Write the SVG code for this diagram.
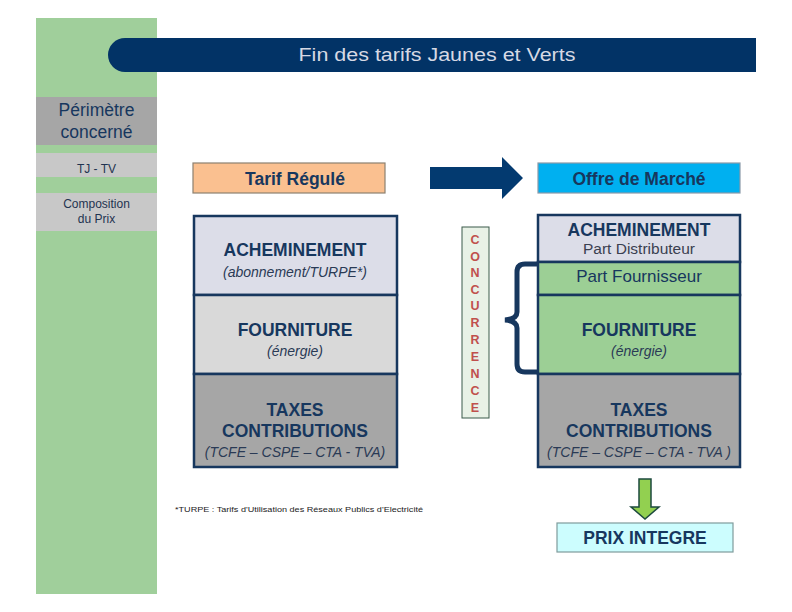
<svg xmlns="http://www.w3.org/2000/svg" width="792" height="612" viewBox="0 0 792 612">
<style>
text{font-family:"Liberation Sans",Arial,sans-serif;text-anchor:middle}
.b{font-weight:bold;font-size:17.5px;fill:#17375e}
.i{font-style:italic;font-size:14px;fill:#2a3a55}
.side{font-size:12px;fill:#1f3350}
.sec{stroke:#17375e;stroke-width:2.5}
.conc{font-weight:bold;font-size:12.5px;fill:#c0504d}
</style>
<rect width="792" height="612" fill="#ffffff"/>
<g id="sidebar">
<rect x="36" y="18" width="121" height="576" fill="#a0cf9b"/>
<rect x="36" y="97" width="121" height="48" fill="#a6a6a6"/>
<text x="96.5" y="116" font-size="17.5" fill="#17375e">Périmètre</text>
<text x="96.5" y="138" font-size="17.5" fill="#17375e">concerné</text>
<rect x="36" y="153" width="121" height="24" fill="#c8c8c8"/>
<text class="side" x="96.5" y="173">TJ - TV</text>
<rect x="36" y="193" width="121" height="38" fill="#c8c8c8"/>
<text class="side" x="96.5" y="208">Composition</text>
<text class="side" x="96.5" y="223">du Prix</text>
</g>
<g id="title">
<path d="M125 38 H756 V72 H125 A17 17 0 0 1 125 38 Z" fill="#023366"/>
<text x="437" y="61" font-family="'Noto Sans','DejaVu Sans',sans-serif" font-size="18" fill="#d6d9e4" textLength="277" lengthAdjust="spacingAndGlyphs">Fin des tarifs Jaunes et Verts</text>
</g>
<g id="tarif-regule">
<rect x="193" y="163" width="192" height="30" fill="#fac090" stroke="#8c8070" stroke-width="1.2"/>
<text class="b" x="295" y="185">Tarif Régulé</text>
</g>
<g id="offre-marche">
<rect x="538" y="163" width="202" height="30" fill="#00b0f0" stroke="#8a9aa8" stroke-width="1.2"/>
<text class="b" x="639" y="185">Offre de Marché</text>
</g>
<g id="left-stack">
<rect class="sec" x="194" y="216" width="203" height="79" fill="#dcdde8"/>
<text class="b" x="295" y="256">ACHEMINEMENT</text>
<text class="i" x="295" y="277">(abonnement/TURPE*)</text>
<rect class="sec" x="194" y="295" width="203" height="79" fill="#d9d9d9"/>
<text class="b" x="295" y="336">FOURNITURE</text>
<text class="i" x="295" y="356">(énergie)</text>
<rect class="sec" x="194" y="374" width="203" height="93" fill="#a6a6a6"/>
<text class="b" x="295" y="416">TAXES</text>
<text class="b" x="295" y="437">CONTRIBUTIONS</text>
<text class="i" x="295" y="457">(TCFE – CSPE – CTA - TVA)</text>
</g>
<g id="concurrence">
<rect x="462" y="227" width="27" height="191" fill="#e8f1e6" stroke="#3b5a4a" stroke-width="1"/>
<text class="conc" x="475" y="244">C</text>
<text class="conc" x="475" y="261">O</text>
<text class="conc" x="475" y="277">N</text>
<text class="conc" x="475" y="294">C</text>
<text class="conc" x="475" y="310">U</text>
<text class="conc" x="475" y="327">R</text>
<text class="conc" x="475" y="344">R</text>
<text class="conc" x="475" y="361">E</text>
<text class="conc" x="475" y="378">N</text>
<text class="conc" x="475" y="395">C</text>
<text class="conc" x="475" y="412">E</text>
</g>
<g id="right-stack">
<rect class="sec" x="538" y="215" width="202" height="47" fill="#dcdde8"/>
<text class="b" x="639" y="236">ACHEMINEMENT</text>
<text x="639" y="254" font-size="15.5" fill="#3a4050">Part Distributeur</text>
<rect class="sec" x="538" y="262" width="202" height="33" fill="#9ccf95"/>
<text x="639" y="282" font-size="17" fill="#17375e">Part Fournisseur</text>
<rect class="sec" x="538" y="295" width="202" height="79" fill="#9ccf95"/>
<text class="b" x="639" y="336">FOURNITURE</text>
<text class="i" x="639" y="356">(énergie)</text>
<rect class="sec" x="538" y="374" width="202" height="93" fill="#a6a6a6"/>
<text class="b" x="639" y="416">TAXES</text>
<text class="b" x="639" y="437">CONTRIBUTIONS</text>
<text class="i" x="639" y="457">(TCFE – CSPE – CTA - TVA )</text>
</g>
<g id="prix-integre">
<rect x="557" y="523" width="176" height="29" fill="#ccfdfe" stroke="#7f9c9c" stroke-width="1.2"/>
<text class="b" x="645" y="544">PRIX INTEGRE</text>
</g>
<g id="footnote">
<text x="175" y="512" font-size="8" fill="#222" style="text-anchor:start" textLength="248" lengthAdjust="spacingAndGlyphs">*TURPE : Tarifs d'Utilisation des Réseaux Publics d'Electricité</text>
</g>
<g id="connectors">
<path d="M430 167 H502 V157 L523 178 L502 199 V189 H430 Z" fill="#033a70"/>
<path d="M537 264 H525 Q517 264 517 272 V312 Q517 319 505 320 Q517 321 517 328 V364 Q517 372 525 372 H537" fill="none" stroke="#17375e" stroke-width="5"/>
<path d="M639 479 H651 V507 H659 L645 519 L631 507 H639 Z" fill="#92d050" stroke="#1d4a3e" stroke-width="1.5"/>
</g>
</svg>
